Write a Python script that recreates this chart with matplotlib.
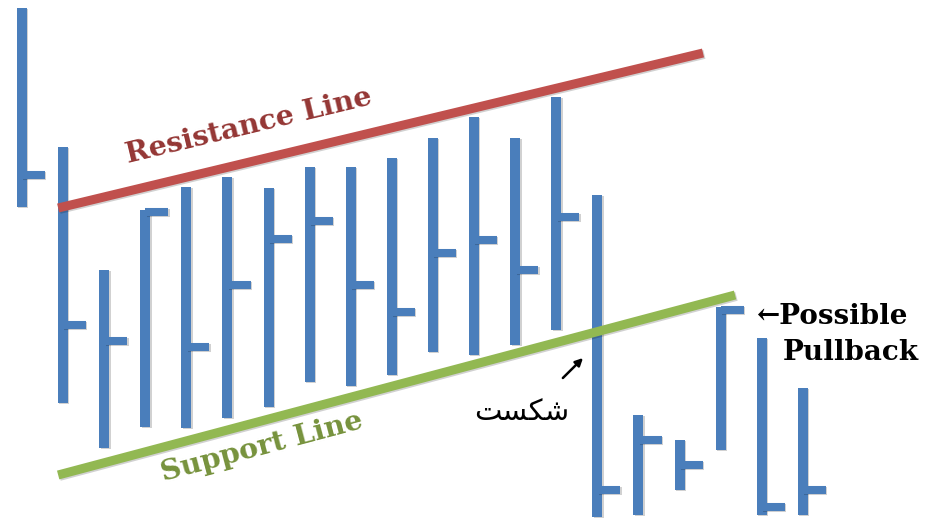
#!/usr/bin/env python3
"""Ascending channel sketch: OHLC-style bars between a resistance and a support line."""

import numpy as np
import matplotlib
matplotlib.use("Agg")
import matplotlib.pyplot as plt
import matplotlib.patheffects as pe

# ---------------------------------------------------------------------------
# Data (bar number on x, price on y)
# ---------------------------------------------------------------------------
bar_num = list(range(1, 21))
highs = [515, 376, 253, 313, 336, 346, 335, 356, 356, 365,
         385, 406, 385, 426, 328, 108, 83, 216, 185, 135]
lows = [316, 120, 75, 96, 95, 105, 116, 141, 137, 148,
        171, 168, 178, 193, 6, 8, 33, 73, 8, 8]
closes = [348, 198, 182, 311, 176, 238, 284, 302, 238, 211,
          270, 283, 253, 306, 33, 83, 58, 213, 16, 33]

resistance_x = [1.88, 17.57]
resistance_y = [315, 470]
support_x = [1.88, 18.35]
support_y = [48, 228]

break_label = "شکست"
break_arrow_tail = (14.16, 145)
break_arrow_head = (14.65, 165)

# ---------------------------------------------------------------------------
# Style
# ---------------------------------------------------------------------------
BAR_BLUE = "#4a7ebb"
RES_RED = "#c0504d"
RES_TEXT = "#943634"
SUP_GREEN = "#92b852"
SUP_TEXT = "#76923c"
shadow = [pe.SimpleLineShadow(offset=(1, -1), alpha=0.18), pe.Normal()]


def shaped_persian(word):
    # matplotlib has no Arabic shaping, so map to presentation forms in visual order
    forms = {"ش": ("\uFEB5", "\uFEB6", "\uFEB7", "\uFEB8"),
             "س": ("\uFEB1", "\uFEB2", "\uFEB3", "\uFEB4"),
             "ک": ("\uFB8E", "\uFB8F", "\uFB90", "\uFB91"),
             "ت": ("\uFE95", "\uFE96", "\uFE97", "\uFE98")}
    out = []
    n = len(word)
    for i, ch in enumerate(word):
        if n == 1:
            k = 0
        elif i == 0:
            k = 2
        elif i == n - 1:
            k = 1
        else:
            k = 3
        out.append(forms[ch][k])
    return "".join(reversed(out))


fig = plt.figure(figsize=(9.31, 5.23), dpi=100)
ax = fig.add_axes([0, 0, 1, 1])
ax.set_xlim(0.465, 23.117)
ax.set_ylim(0, 523)
ax.axis("off")

tick_len = 0.56
for n, hi, lo, cl in zip(bar_num, highs, lows, closes):
    ax.plot([n, n], [lo, hi], color=BAR_BLUE, lw=7.2,
            solid_capstyle="butt", path_effects=shadow, zorder=2)
    ax.plot([n, n + tick_len], [cl, cl], color=BAR_BLUE, lw=5.8,
            solid_capstyle="butt", path_effects=shadow, zorder=2)

ax.plot(resistance_x, resistance_y, color=RES_RED, lw=6.5,
        solid_capstyle="butt", path_effects=shadow, zorder=3)
ax.plot(support_x, support_y, color=SUP_GREEN, lw=6.5,
        solid_capstyle="butt", path_effects=shadow, zorder=3)


def screen_angle(xs, ys):
    p = ax.transData.transform(np.column_stack([xs, ys]))
    return np.degrees(np.arctan2(p[1, 1] - p[0, 1], p[1, 0] - p[0, 0]))


ax.text(6.52, 397, "Resistance Line", color=RES_TEXT, fontsize=20.5,
        fontweight="bold", family="DejaVu Serif", ha="center", va="center",
        rotation=screen_angle(resistance_x, resistance_y), rotation_mode="anchor")
ax.text(6.84, 76, "Support Line", color=SUP_TEXT, fontsize=20.5,
        fontweight="bold", family="DejaVu Serif", ha="center", va="center",
        rotation=screen_angle(support_x, support_y), rotation_mode="anchor")

ax.annotate("", xy=break_arrow_head, xytext=break_arrow_tail,
            arrowprops=dict(arrowstyle="-|>", color="black", lw=1.8,
                            mutation_scale=11, shrinkA=0, shrinkB=0))
ax.text(13.17, 111, shaped_persian(break_label), color="black", fontsize=21,
        family=["DejaVu Sans"], ha="center", va="center")

ax.text(18.88, 206, "\u2190Possible", color="black", fontsize=20,
        fontweight="bold", family="DejaVu Serif", ha="left", va="center")
ax.text(19.52, 171, "Pullback", color="black", fontsize=20,
        fontweight="bold", family="DejaVu Serif", ha="left", va="center")

fig.savefig("out.png", dpi=100)
